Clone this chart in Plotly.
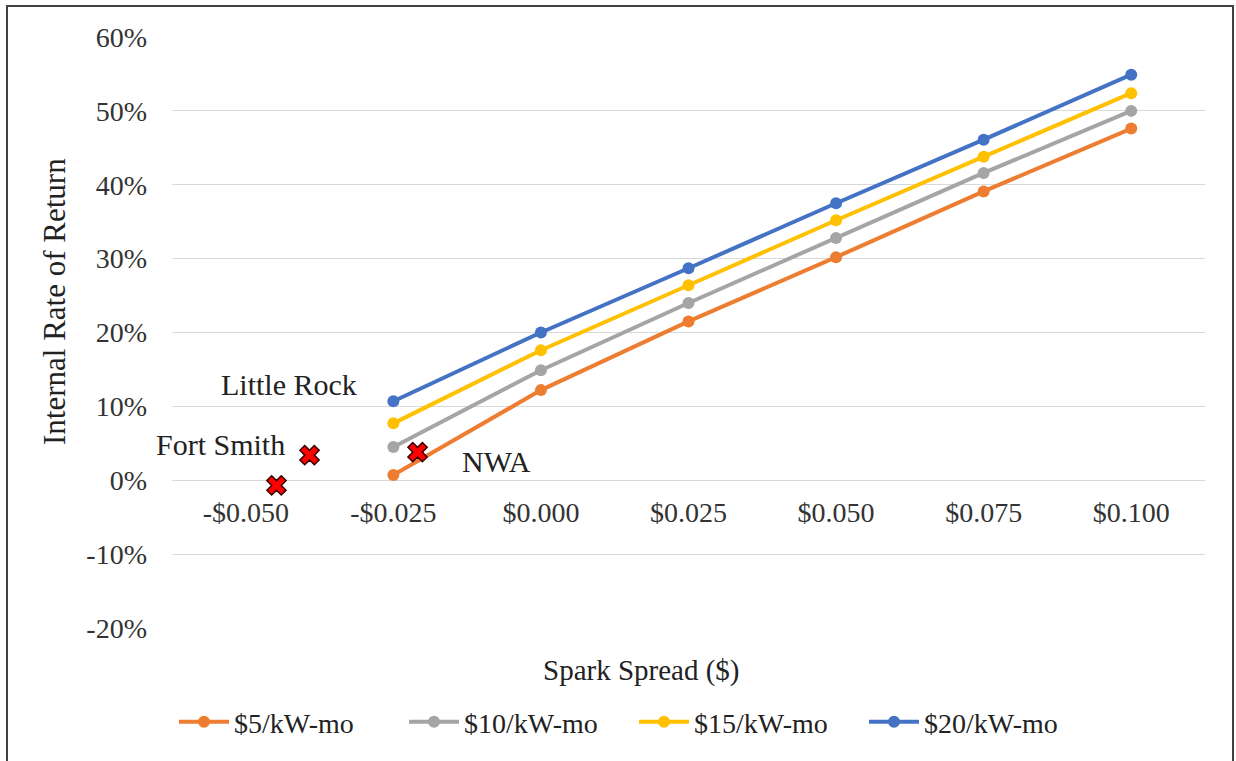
import plotly.graph_objects as go

# Spark spread ($) sensitivity points
spark_spread = [-0.025, 0.000, 0.025, 0.050, 0.075, 0.100]

# Internal rate of return by capacity payment
irr_5 = [0.007, 0.122, 0.215, 0.302, 0.391, 0.476]
irr_10 = [0.045, 0.149, 0.240, 0.328, 0.416, 0.500]
irr_15 = [0.077, 0.176, 0.264, 0.352, 0.438, 0.524]
irr_20 = [0.107, 0.200, 0.287, 0.375, 0.461, 0.549]

series_names = ["$5/kW-mo", "$10/kW-mo", "$15/kW-mo", "$20/kW-mo"]
series_colors = ["#ED7D31", "#A5A5A5", "#FFC000", "#4472C4"]

# Individual locations
city_names = ["Fort Smith", "Little Rock", "NWA"]
city_spread = [-0.0448, -0.0392, -0.0209]
city_irr = [-0.007, 0.034, 0.038]

# Axis ticks
x_tickvals = [-0.050, -0.025, 0.000, 0.025, 0.050, 0.075, 0.100]
x_ticktext = ["-$0.050", "-$0.025", "$0.000", "$0.025", "$0.050", "$0.075", "$0.100"]
y_tickvals = [-0.2, -0.1, 0.0, 0.1, 0.2, 0.3, 0.4, 0.5, 0.6]
y_ticktext = ["-20%", "-10%", "0%", "10%", "20%", "30%", "40%", "50%", "60%"]

FONT = "Liberation Serif, Times New Roman, serif"
W, H = 1236, 761
ML, MR, MT, MB = 172, 31, 37, 133
PW, PH = W - ML - MR, H - MT - MB


def px_to_paper_x(px):
    return (px - ML) / PW


def px_to_paper_y(py):
    return (H - MB - py) / PH


fig = go.Figure()

for name, color, vals in zip(series_names, series_colors, [irr_5, irr_10, irr_15, irr_20]):
    fig.add_trace(go.Scatter(
        x=spark_spread, y=vals, name=name, mode="lines+markers",
        line=dict(color=color, width=4),
        marker=dict(color=color, size=12, symbol="circle"),
    ))

fig.add_trace(go.Scatter(
    x=city_spread, y=city_irr, mode="markers", showlegend=False,
    text=city_names,
    marker=dict(symbol="x", size=17, color="#FF0000",
                line=dict(color="#3A0000", width=1.5)),
))

# City labels, offset from their markers
label_shift = {"Fort Smith": (-56, 41), "Little Rock": (-21, 71), "NWA": (79, -9)}
for name, xv, yv in zip(city_names, city_spread, city_irr):
    dx, dy = label_shift[name]
    fig.add_annotation(x=xv, y=yv, text=name, showarrow=False,
                       xshift=dx, yshift=dy, xanchor="center", yanchor="middle",
                       font=dict(family=FONT, size=30, color="#222222"))

# Axis titles
fig.add_annotation(xref="paper", yref="paper",
                   x=px_to_paper_x(641), y=px_to_paper_y(670),
                   xanchor="center", yanchor="middle",
                   text="Spark Spread ($)", showarrow=False,
                   font=dict(family=FONT, size=29, color="#222222"))
fig.add_annotation(xref="paper", yref="paper",
                   x=px_to_paper_x(54), y=px_to_paper_y(302),
                   xanchor="center", yanchor="middle",
                   text="Internal Rate of Return", textangle=-90, showarrow=False,
                   font=dict(family=FONT, size=31, color="#222222"))

# Chart border
fig.add_shape(type="rect", xref="paper", yref="paper",
              x0=px_to_paper_x(7), x1=px_to_paper_x(1233),
              y0=px_to_paper_y(775), y1=px_to_paper_y(6),
              line=dict(color="#404040", width=2), fillcolor="rgba(0,0,0,0)")

fig.update_layout(
    width=W, height=H,
    margin=dict(l=ML, r=MR, t=MT, b=MB),
    paper_bgcolor="white", plot_bgcolor="white",
    font=dict(family=FONT, size=28, color="#333333"),
    showlegend=True,
    legend=dict(orientation="h", x=px_to_paper_x(174), xanchor="left",
                y=px_to_paper_y(722), yanchor="middle",
                font=dict(family=FONT, size=28, color="#222222"),
                entrywidth=165, entrywidthmode="pixels", itemwidth=50,
                bgcolor="rgba(0,0,0,0)"),
    xaxis=dict(range=[-0.0625, 0.1125], tickvals=x_tickvals, ticktext=x_ticktext,
               showgrid=False, zeroline=False, showline=False,
               anchor="free", position=px_to_paper_y(480),
               ticks="outside", ticklen=7, tickcolor="rgba(0,0,0,0)",
               tickfont=dict(family=FONT, size=28, color="#333333")),
    yaxis=dict(range=[-0.2, 0.6], tickvals=y_tickvals, ticktext=y_ticktext,
               showgrid=True, gridcolor="#D9D9D9", gridwidth=1,
               zeroline=True, zerolinecolor="#D9D9D9", zerolinewidth=1,
               showline=False, ticks="", ticklabelstandoff=24,
               tickfont=dict(family=FONT, size=28, color="#333333")),
)

fig.write_html("out.html")
